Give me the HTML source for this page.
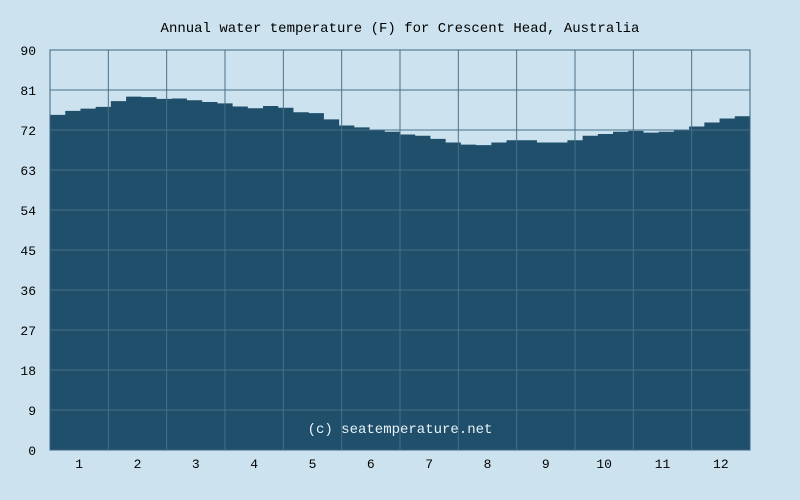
<!DOCTYPE html>
<html><head><meta charset="utf-8"><style>
body{margin:0;background:#cce3ef;}
svg{display:block;font-family:"Liberation Mono",monospace;}
</style></head><body>
<svg width="800" height="500">
<rect width="800" height="500" fill="#cce3ef"/>
<text x="400" y="32" text-anchor="middle" font-size="14" fill="#000">Annual water temperature (F) for Crescent Head, Australia</text>
<g id="plot"></g>
</svg>
<script>
const months=["1","2","3","4","5","6","7","8","9","10","11","12"];
const yTicks=[0,9,18,27,36,45,54,63,72,81,90];
const temps=[75.4,76.3,76.8,77.2,78.5,79.5,79.4,79.0,79.1,78.7,78.3,78.0,77.3,76.9,77.4,77.0,76.0,75.8,74.4,73.0,72.6,72.0,71.6,71.0,70.7,70.0,69.2,68.7,68.6,69.2,69.7,69.7,69.2,69.2,69.7,70.7,71.1,71.6,71.8,71.4,71.6,72.0,72.8,73.7,74.6,75.1];
const L=50,R=750,T=50,B=450,ymax=90;
const ys=v=>B-(v/ymax)*(B-T);
const xs=i=>L+(R-L)*i/temps.length;
const g=document.getElementById('plot');
const NS='http://www.w3.org/2000/svg';
function mk(t,a){const e=document.createElementNS(NS,t);for(const k in a)e.setAttribute(k,a[k]);g.appendChild(e);return e;}
let d='M'+L+','+B;
temps.forEach((v,i)=>{d+=' L'+xs(i)+','+ys(v)+' L'+xs(i+1)+','+ys(v);});
d+=' L'+R+','+B+' Z';
const area=mk('path',{d:d,fill:'#1f4f6b'});


yTicks.forEach(v=>{
  const ln=mk('line',{x1:L,x2:R,y1:ys(v),y2:ys(v),stroke:'#4a6f8a','stroke-width':1});
  
  
  const t=mk('text',{x:36,y:ys(v)+5,'text-anchor':'end','font-size':13,fill:'#000'});
  t.textContent=v;
  
  
});
const mw=(R-L)/months.length;
months.forEach((m,i)=>{
  const ln=mk('line',{x1:L+mw*i,x2:L+mw*i,y1:T,y2:B,stroke:'#4a6f8a','stroke-width':1});
  
  
  const t=mk('text',{x:L+mw*(i+0.5),y:468,'text-anchor':'middle','font-size':13,fill:'#000'});
  t.textContent=m;
  
  
});
const fr=mk('rect',{x:L,y:T,width:R-L,height:B-T,fill:'none',stroke:'#3f6680','stroke-width':1});


const c=mk('text',{x:400,y:433,'text-anchor':'middle','font-size':14,fill:'#e8f2f8'});
c.textContent='(c) seatemperature.net';


</script>
</body></html>
